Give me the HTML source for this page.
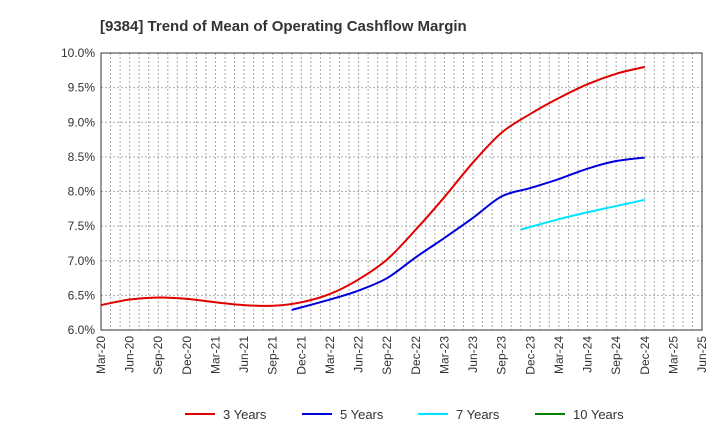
<!DOCTYPE html>
<html><head><meta charset="utf-8"><style>
body{margin:0;background:#fff;font-family:"Liberation Sans",sans-serif;}
</style></head><body>
<svg id="c" width="720" height="440" xmlns="http://www.w3.org/2000/svg">
<text x="100" y="31" font-size="15" font-weight="bold" fill="#333">[9384]  Trend of Mean of Operating Cashflow Margin</text>
<g id="grid"></g><g id="axes"></g><g id="series"></g><g id="legend"></g>
</svg>
<script>
const xLabels=["Mar-20","Jun-20","Sep-20","Dec-20","Mar-21","Jun-21","Sep-21","Dec-21","Mar-22","Jun-22","Sep-22","Dec-22","Mar-23","Jun-23","Sep-23","Dec-23","Mar-24","Jun-24","Sep-24","Dec-24","Mar-25","Jun-25"];
const yTicks=[6.0,6.5,7.0,7.5,8.0,8.5,9.0,9.5,10.0];
const s3=[6.36,6.44,6.47,6.45,6.40,6.36,6.35,6.40,6.52,6.73,7.02,7.45,7.92,8.42,8.85,9.12,9.35,9.55,9.70,9.80];
const s3Start=0;
const s5=[6.29,6.44,6.57,6.75,7.05,7.33,7.62,7.93,8.05,8.18,8.33,8.44,8.49];
const s5Start=7;
const s7=[7.45,7.60,7.70,7.79,7.88];
const s7Start=15;
const s10=[];
const s10Start=0;
const NS="http://www.w3.org/2000/svg";
const L=101,R=702,T=53,B=330;
const X=i=>L+(R-L)*i/(xLabels.length-1);
const Y=v=>B-(B-T)*(v-6)/4;
function el(tag,attrs,parent){const e=document.createElementNS(NS,tag);for(const k in attrs)e.setAttribute(k,attrs[k]);parent.appendChild(e);return e;}
const grid=document.getElementById('grid'),axes=document.getElementById('axes'),ser=document.getElementById('series'),leg=document.getElementById('legend');
for(let m=1;m<(xLabels.length-1)*3;m++){const x=L+(R-L)*m/((xLabels.length-1)*3);
const g=el('line',{x1:x,x2:x,y1:T,y2:B,stroke:'#aaa','stroke-dasharray':'2,2','stroke-width':1},grid);

}
yTicks.forEach(v=>{const y=Y(v);
const g=el('line',{x1:L,x2:R,y1:y,y2:y,stroke:'#aaa','stroke-dasharray':'2,2','stroke-width':1},grid);


const t=el('text',{x:L-6,y:y+4,'text-anchor':'end','font-size':12,fill:'#333'},axes);t.textContent=v.toFixed(1)+'%';

});
const fr=el('rect',{x:L,y:T,width:R-L,height:B-T,fill:'none',stroke:'#333','stroke-width':1},axes);


xLabels.forEach((lab,i)=>{const x=X(i);
const t=el('text',{x:0,y:0,'text-anchor':'end','font-size':12,fill:'#333',transform:`translate(${x+4},${B+6}) rotate(-90)`},axes);t.textContent=lab;

});
function path(vals,start){const p=vals.map((v,i)=>[X(start+i-(i===0&&start>0?1/3:0)),Y(v)]);if(p.length<2)return '';
let d=`M${p[0][0]},${p[0][1]}`;for(let i=0;i<p.length-1;i++){const p0=p[i-1]||p[i],p1=p[i],p2=p[i+1],p3=p[i+2]||p2;
d+=` C${p1[0]+(p2[0]-p0[0])/6},${p1[1]+(p2[1]-p0[1])/6} ${p2[0]-(p3[0]-p1[0])/6},${p2[1]-(p3[1]-p1[1])/6} ${p2[0]},${p2[1]}`;}return d;}
const series=[["3 Years",s3,s3Start,"#e00000"],["5 Years",s5,s5Start,"#0000dd"],["7 Years",s7,s7Start,"#00e5ff"],["10 Years",s10,s10Start,"#008000"]];
series.forEach(([name,vals,st,col],k)=>{const d=path(vals,st);
if(d){const p=el('path',{d:d,fill:'none',stroke:col,'stroke-width':2},ser);

}
const lx=[185,302,418,535][k];
const g=el('g',{},leg);


el('line',{x1:lx,x2:lx+30,y1:414,y2:414,stroke:col,'stroke-width':2},g);
const t=el('text',{x:lx+38,y:419,'font-size':13,fill:'#333'},g);t.textContent=name;});
</script>
</body></html>
